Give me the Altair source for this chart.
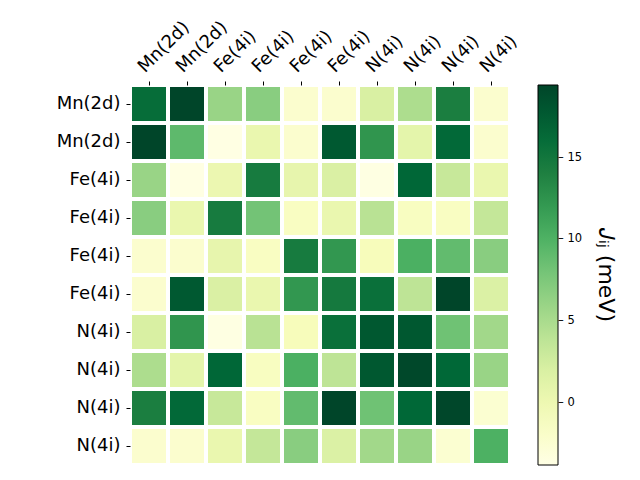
import altair as alt
import numpy as np
import pandas as pd

labels = ["Mn(2d)", "Mn(2d)", "Fe(4i)", "Fe(4i)", "Fe(4i)", "Fe(4i)",
          "N(4i)", "N(4i)", "N(4i)", "N(4i)"]

J = [
    [16.0, 19.4, 6.0, 6.9, -2.3, -2.3, 2.0, 4.9, 14.3, -2.3],
    [19.4, 9.2, -3.7, 0.4, -2.3, 17.8, 12.4, 0.9, 16.4, -2.3],
    [6.0, -3.7, 0.2, 14.6, 0.7, 1.9, -3.6, 16.6, 3.2, 0.4],
    [6.9, 0.4, 14.6, 8.1, -1.5, 0.4, 4.1, -1.4, -1.5, 3.4],
    [-2.3, -2.3, 0.7, -1.5, 14.6, 12.2, -1.0, 10.2, 9.0, 6.9],
    [-2.3, 17.8, 1.9, 0.4, 12.2, 14.8, 15.7, 3.8, 19.4, 1.8],
    [2.0, 12.4, -3.6, 4.1, -1.0, 15.7, 17.9, 17.9, 8.3, 5.5],
    [4.9, 0.9, 16.6, -1.4, 10.2, 3.8, 17.9, 19.2, 16.5, 6.0],
    [14.3, 16.4, 3.2, -1.5, 9.0, 19.4, 8.3, 16.5, 19.3, -2.5],
    [-2.3, -2.3, 0.4, 3.4, 6.9, 1.8, 5.5, 6.0, -2.5, 10.1],
]

vmin, vmax = -3.80, 19.44
ylgn = ["#ffffe5", "#f7fcb9", "#d9f0a3", "#addd8e", "#78c679",
        "#41ab5d", "#238443", "#006837", "#004529"]
cdomain = list(np.linspace(vmin, vmax, len(ylgn)))

rows = []
for i, r in enumerate(J):
    for j, v in enumerate(r):
        rows.append({"row": i, "col": j, "J": v})
df = pd.DataFrame(rows)

lab_js = "[" + ",".join("'" + s + "'" for s in labels) + "]"

chart = alt.Chart(df).mark_rect(stroke="white", strokeWidth=4).encode(
    x=alt.X("col:O", scale=alt.Scale(paddingInner=0, paddingOuter=0),
            axis=alt.Axis(orient="top", title=None, labelAngle=-45,
                          labelAlign="left", labelBaseline="alphabetic",
                          labelExpr=lab_js + "[datum.value]",
                          labelPadding=8, labelOffset=-4,
                          labelFontSize=18, labelColor="black",
                          tickSize=4, tickColor="black", domain=False)),
    y=alt.Y("row:O", scale=alt.Scale(paddingInner=0, paddingOuter=0),
            axis=alt.Axis(title=None, labelExpr=lab_js + "[datum.value]",
                          labelPadding=6, labelFontSize=18, labelColor="black",
                          tickSize=4, tickColor="black", domain=False)),
    color=alt.Color("J:Q",
                    scale=alt.Scale(domain=cdomain, range=ylgn, interpolate="rgb"),
                    legend=alt.Legend(
                        title="𝐽ᵢⱼ (meV)", orient="none", legendX=408, legendY=0,
                        direction="vertical",
                        gradientLength=380, gradientThickness=20,
                        gradientStrokeColor="black", gradientStrokeWidth=1,
                        values=[0, 5, 10, 15],
                        labelExpr="'– ' + datum.label",
                        labelOffset=0, labelFontSize=11.5, labelColor="black",
                        titleOrient="right", titleAnchor="middle",
                        titleFontSize=22, titleFontWeight="normal",
                        titleColor="black", titlePadding=12, padding=0)),
).properties(
    width=380, height=380,
    autosize=alt.AutoSizeParams(type="none"),
    padding={"left": 130, "top": 85, "right": 130, "bottom": 15},
).configure(font="DejaVu Sans").configure_view(stroke=None)

chart.save("out.html", embed_options={"renderer": "svg", "actions": False})
